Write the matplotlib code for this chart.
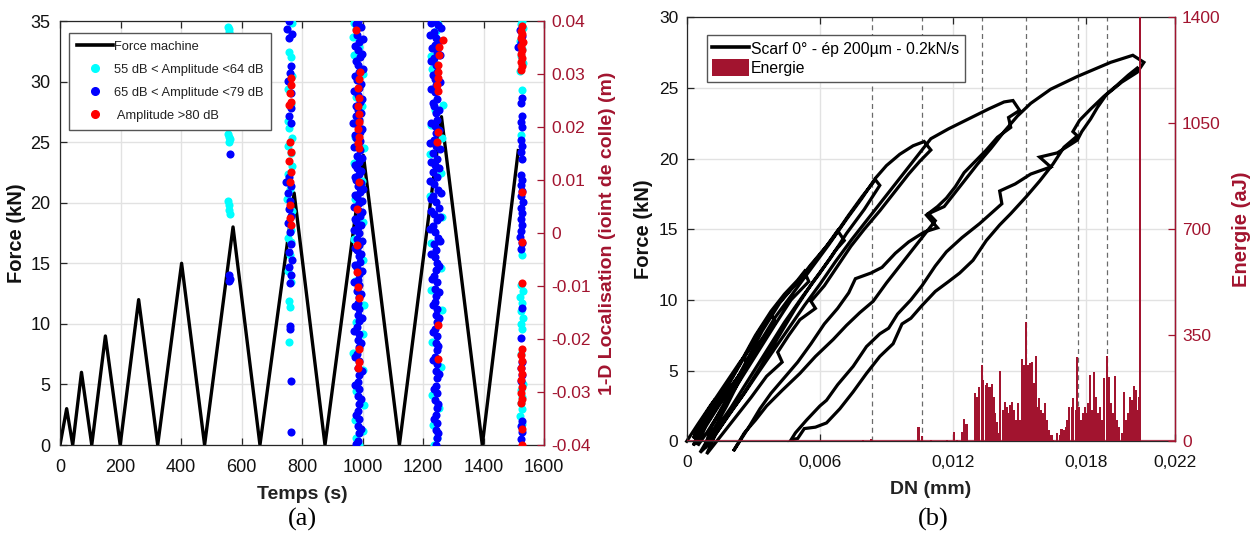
import numpy as np
import matplotlib
matplotlib.use("Agg")
import matplotlib.pyplot as plt
from matplotlib.lines import Line2D
from matplotlib.patches import Patch

plt.rcParams['font.family'] = ['Liberation Sans', 'DejaVu Sans']

MAT_RED = '#A2142F'
AX_COL = '#262626'
GRID_COL = '#e2e2e2'

# ---------------- (a) force machine vs time ----------------
force_t = [0, 22, 42, 71, 105, 150, 199, 260, 323, 402, 478, 572, 661,
           774, 876, 1003, 1122, 1261, 1396, 1515]
force_kn = [0, 3, 0, 6, 0, 9, 0, 12, 0, 15, 0, 18, 0,
            20.8, 0, 23.9, 0, 27.1, 0, 24.3]

# AE hits (time s, localisation mm)
cyan_pts = [
    (556, 38.9), (558, 38.4), (560, 37.9), (562, 37.3), (559, 36.7),
    (557, 18.7), (560, 18.2), (562, 17.7), (559, 17.2),
    (556, 6.0), (558, 5.2), (560, 4.4), (562, 3.5),
    (768, 39.6), (756, 34.2), (763, 33.2), (766, 29.6), (754, 27.1), (764, 24.3),
    (753, 21.2), (758, 19.8), (766, 18.0), (755, 16.4), (763, 15.1), (766, 12.6),
    (754, 11.2), (761, 8.3), (752, 6.4), (766, 4.1), (757, 2.0), (763, 0.6),
    (755, -0.9), (765, -1.7), (760, -4.2), (754, -7.1), (763, -9.3), (756, -12.8),
    (760, -13.9), (758, -20.5),
    (972, 39.6), (977, 38.4), (970, 37.0), (990, 35.0), (973, 33.6), (1002, 30.0),
    (978, 25.7), (999, 24.0), (974, 18.1), (1004, 16.0), (971, 13.3), (998, 9.9),
    (976, 6.5), (1001, 2.0), (972, -1.2), (1003, -5.1), (975, -9.0), (1005, -13.6),
    (977, -16.8), (1001, -19.1), (970, -22.7), (1003, -25.9), (978, -29.8),
    (1004, -32.4), (974, -35.2), (1001, -37.3), (978, -38.6), (988, -40.0),
    (1236, 40.0), (1250, 39.4), (1242, 38.2), (1226, 33.4), (1236, 32.3),
    (1231, 31.0), (1267, 24.1), (1240, 23.3), (1228, 20.3), (1262, 18.0),
    (1222, 14.9), (1260, 11.3), (1224, 7.0), (1262, 3.1), (1228, -1.9),
    (1259, -6.6), (1225, -10.8), (1262, -14.5), (1230, -20.6), (1260, -25.2),
    (1229, -30.6), (1254, -33.1), (1233, -36.2), (1247, -38.7), (1238, -40.0),
    (1527, 40.0), (1524, 39.5), (1529, 38.6), (1522, 36.2), (1528, 34.8),
    (1523, 33.4), (1530, 32.0), (1521, 30.6), (1527, 27.0), (1525, 18.5),
    (1527, -4.2), (1524, -9.8), (1529, -11.0), (1522, -12.1), (1527, -13.3),
    (1524, -14.8), (1529, -16.0), (1523, -17.2), (1527, -18.1), (1525, -22.9),
    (1529, -28.5), (1523, -29.7), (1527, -30.9), (1524, -32.1), (1528, -33.3),
    (1522, -34.5), (1526, -36.0),
]

blue_pts = [
    (561, 14.9), (559, -8.0), (561, -8.6), (560, -9.1),
    (757, 40.0), (750, 38.5), (766, 37.6), (756, 36.8), (764, 31.5), (760, 30.2),
    (755, 28.6), (762, 26.4), (765, 23.5), (757, 22.1), (763, 20.8), (747, 9.6),
    (756, 10.5), (764, 8.8), (753, 7.5), (760, 6.0), (756, 4.6), (764, 3.2),
    (754, 1.8), (760, 0.2), (762, -2.1), (756, -3.6), (766, -5.0), (757, -6.5),
    (765, -7.9), (761, -9.5), (760, -17.5), (761, -18.2), (762, -28.0), (764, -37.5),
    (986, 40.0), (978, 39.4), (995, 38.8), (983, 37.4), (1000, 36.6), (989, 36.0),
    (975, 35.2), (984, 34.6), (997, 33.8), (991, 33.2), (979, 32.4), (985, 31.7),
    (1002, 31.0), (990, 30.4), (976, 29.6), (983, 28.9), (996, 28.2), (988, 27.4),
    (973, 26.7), (984, 26.0), (999, 25.3), (991, 24.7), (978, 24.0), (985, 23.3),
    (994, 22.6), (980, 22.0), (989, 21.4), (970, 20.8), (984, 20.2), (998, 19.6),
    (991, 19.0), (976, 18.4), (980, 17.9), (993, 17.3), (986, 16.8), (972, 16.2),
    (992, 15.7), (981, 14.6), (999, 14.1), (987, 13.4), (975, 12.8), (983, 12.3),
    (996, 11.7), (990, 11.2), (974, 10.6), (980, 10.0), (994, 9.4), (986, 8.9),
    (1001, 8.3), (991, 7.8), (976, 7.2), (982, 6.7), (997, 6.1), (988, 5.6),
    (972, 5.0), (984, 4.4), (999, 3.9), (991, 3.3), (975, 2.7), (980, 2.2),
    (995, 1.6), (986, 1.1), (971, 0.5), (990, 0.0), (983, -1.1), (998, -1.6),
    (988, -2.2), (974, -2.8), (981, -3.3), (994, -3.9), (987, -4.4), (991, -5.5),
    (976, -6.0), (983, -6.6), (999, -7.1), (989, -7.7), (985, -8.8), (972, -9.3),
    (990, -9.9), (982, -11.0), (996, -11.5), (987, -12.1), (984, -13.2), (975, -13.7),
    (990, -14.3), (985, -15.4), (998, -16.0), (988, -16.6), (983, -17.8), (973, -18.4),
    (989, -19.0), (985, -20.2), (996, -20.8), (987, -21.5), (983, -22.8), (976, -23.4),
    (988, -24.1), (985, -25.4), (997, -26.0), (989, -26.8), (984, -28.1), (974, -28.7),
    (987, -29.4), (985, -30.8), (995, -31.4), (989, -32.2), (984, -33.6), (977, -34.3),
    (987, -35.0), (985, -36.4), (996, -37.0), (988, -37.8), (986, -39.2), (980, -39.8),
    (1240, 40.0), (1226, 39.6), (1249, 39.2), (1258, 38.6), (1236, 38.0), (1222, 37.4),
    (1244, 36.8), (1252, 36.2), (1240, 35.5), (1230, 34.9), (1246, 34.2), (1255, 33.6),
    (1238, 33.0), (1226, 32.4), (1243, 31.7), (1247, 30.4), (1233, 29.8), (1239, 29.1),
    (1256, 28.5), (1244, 27.9), (1228, 27.2), (1240, 26.6), (1246, 25.3), (1232, 24.6),
    (1238, 24.0), (1252, 23.3), (1243, 22.7), (1247, 21.4), (1226, 20.8), (1239, 20.1),
    (1254, 19.5), (1244, 18.9), (1236, 17.6), (1224, 17.0), (1243, 16.4), (1256, 15.8),
    (1234, 15.1), (1247, 14.0), (1226, 13.4), (1240, 12.8), (1253, 12.2), (1232, 11.6),
    (1246, 10.5), (1222, 9.9), (1238, 9.3), (1250, 8.2), (1258, 7.6), (1234, 7.0),
    (1226, 6.4), (1243, 5.9), (1252, 4.8), (1228, 4.2), (1237, 3.6), (1256, 3.0),
    (1246, 2.5), (1233, 1.3), (1224, 0.7), (1241, 0.2), (1249, -1.0), (1255, -1.6),
    (1236, -2.1), (1244, -3.3), (1228, -3.9), (1239, -4.5), (1247, -5.7), (1253, -6.3),
    (1242, -6.9), (1238, -8.1), (1230, -8.7), (1246, -9.3), (1241, -10.5), (1252, -11.1),
    (1244, -11.8), (1239, -13.0), (1233, -13.6), (1247, -14.3), (1242, -15.5),
    (1254, -16.1), (1245, -16.8), (1240, -18.1), (1232, -18.7), (1246, -19.4),
    (1242, -20.7), (1251, -21.3), (1245, -22.0), (1241, -23.4), (1234, -24.0),
    (1246, -24.7), (1243, -26.0), (1252, -26.6), (1247, -27.4), (1242, -28.8),
    (1236, -29.4), (1245, -30.2), (1241, -31.6), (1250, -32.2), (1246, -33.0),
    (1243, -34.4), (1237, -35.0), (1245, -35.8), (1242, -37.2), (1251, -37.8),
    (1246, -38.6), (1244, -40.0),
    (1522, 38.3), (1528, 37.1), (1525, 35.8), (1515, 35.0), (1527, 25.4),
    (1525, 24.6), (1528, 22.0), (1524, 21.0), (1527, 20.0), (1525, 17.6),
    (1528, 16.5), (1524, 15.3), (1527, 14.0), (1525, 10.9), (1528, 10.0),
    (1523, 9.0), (1527, 8.0), (1525, 7.0), (1529, 5.9), (1523, 4.8), (1527, 3.7),
    (1524, 2.6), (1528, 1.5), (1525, 0.4), (1522, -0.8), (1527, -1.9),
    (1524, -3.0), (1527, -14.2), (1524, -19.9), (1526, -24.3), (1523, -25.5),
    (1527, -26.7), (1525, -28.0), (1527, -35.4), (1524, -36.5), (1527, -37.6),
    (1525, -38.8),
]

red_pts = [
    (764, 29.2), (762, 27.9), (759, 26.4), (763, 24.8), (758, 24.1), (760, 17.2),
    (763, 15.3), (758, 13.5), (762, 11.6), (760, 9.7), (759, 5.3), (761, 2.8),
    (763, 1.5),
    (978, 38.3), (992, 30.4), (988, 29.0), (986, 27.3), (989, 25.4), (986, 24.0),
    (990, 22.5), (987, 21.0), (985, 19.7), (989, 18.2), (984, 17.0), (987, 16.0),
    (987, 9.7), (982, 4.6), (982, -2.3), (981, -7.3), (985, -10.1), (987, -12.3),
    (988, -21.8), (987, -24.3), (986, -25.5),
    (1267, 36.4), (1252, 35.0), (1253, 33.5), (1251, 31.7), (1249, 30.3),
    (1248, 29.2), (1247, 28.0), (1248, 26.7), (1250, 19.0), (1247, 17.2),
    (1249, -17.4), (1251, -23.7),
    (1527, 39.0), (1524, 38.2), (1528, 37.5), (1525, 36.7), (1529, 36.0),
    (1523, 35.2), (1527, 34.5), (1525, 33.7), (1528, 33.0), (1524, 32.3),
    (1527, 31.5), (1525, 30.7), (1527, 7.8), (1527, -1.7), (1527, -9.5),
    (1527, -21.8), (1525, -23.0), (1528, -24.2), (1524, -25.4), (1527, -26.6),
    (1525, -27.8), (1528, -29.0), (1524, -30.2), (1527, -31.4), (1525, -32.0),
    (1526, -37.0), (1527, -40.0),
]

loc_ticks = [-0.04, -0.03, -0.02, -0.01, 0, 0.01, 0.02, 0.03, 0.04]
loc_labels = ['-0.04', '-0.03', '-0.02', '-0.01', '0', '0.01', '0.02', '0.03', '0.04']

# ---------------- (b) force vs DN + energy ----------------
# loading / unloading path (DN mm, force kN)
bundle_path = [
    (0, 0), (0.0005, 1.2), (0.0011, 2.6), (0.0013, 3.0), (0.0012, 2.6), (0.0008, 1.6), (0.0003, 0.2),
    (0.0006, 1.3), (0.0012, 2.8), (0.0018, 4.2), (0.0024, 5.6), (0.0026, 6.0), (0.0027, 5.4),
    (0.0021, 4.1), (0.0014, 2.5), (0.0007, 0.8), (0.0003, -0.3),
    (0.0006, 0.9), (0.0014, 2.9), (0.0022, 5.0), (0.0030, 7.0), (0.0036, 8.6), (0.0038, 9.0),
    (0.0040, 8.4), (0.0032, 6.8), (0.0025, 5.0), (0.0016, 2.9), (0.0008, 0.9), (0.0004, -0.2),
    (0.0008, 1.3), (0.0016, 3.4), (0.0024, 5.5), (0.0031, 7.5), (0.0038, 9.2), (0.0044, 10.4),
    (0.0050, 11.4), (0.0053, 12.0), (0.0055, 11.3), (0.0047, 10.0), (0.0040, 8.3), (0.0032, 6.3),
    (0.0024, 4.3), (0.0016, 2.3), (0.0009, 0.6), (0.0005, -0.3),
    (0.0009, 1.3), (0.0017, 3.5), (0.0025, 5.7), (0.0033, 7.9), (0.0041, 9.7), (0.0049, 11.1),
    (0.0056, 12.5), (0.0063, 13.8), (0.0068, 14.9), (0.0071, 14.2), (0.0067, 13.5), (0.0060, 11.9),
    (0.0052, 10.2), (0.0044, 8.4), (0.0036, 6.4), (0.0028, 4.4), (0.0020, 2.4), (0.0012, 0.6),
    (0.0008, -0.5),
    (0.0011, 1.0), (0.0018, 3.0), (0.0026, 5.4), (0.0034, 7.8), (0.0042, 9.8), (0.0050, 11.3),
    (0.0058, 12.8), (0.0066, 14.4), (0.0073, 16.0), (0.0079, 17.3), (0.0085, 18.5), (0.0087, 18.1),
    (0.0080, 16.4), (0.0072, 14.7), (0.0065, 13.0), (0.0057, 11.3), (0.0049, 9.4), (0.0041, 7.3),
    (0.0033, 5.2), (0.0025, 3.2), (0.0017, 1.4), (0.0010, -0.2), (0.0006, -0.8),
]
cycle21_path = [
    (0.0012, 0.8), (0.0018, 2.5), (0.0025, 4.7), (0.0033, 7.0), (0.0040, 8.8), (0.0048, 10.5),
    (0.0056, 12.2), (0.0064, 13.9), (0.0072, 15.7), (0.0079, 17.2), (0.0085, 18.6), (0.0090, 19.5),
    (0.0096, 20.3), (0.0102, 20.9), (0.0107, 21.2), (0.0110, 20.6),
    (0.0105, 19.8), (0.0100, 18.9), (0.0093, 17.5), (0.0087, 16.3), (0.0080, 15.0), (0.0074, 13.8),
    (0.0068, 12.4), (0.0062, 11.0), (0.0056, 9.9), (0.0058, 9.4), (0.0051, 8.6), (0.0046, 7.5),
    (0.0041, 6.3), (0.0043, 5.6), (0.0036, 4.6), (0.0029, 3.1), (0.0022, 1.7), (0.0015, 0.3),
    (0.0009, -0.9),
]
cycle24_path = [
    (0.0013, 0.5), (0.0019, 1.9), (0.0026, 3.4), (0.0032, 4.8), (0.0039, 6.4), (0.0046, 8.0),
    (0.0053, 9.6), (0.0060, 11.1), (0.0067, 12.7), (0.0074, 14.2), (0.0081, 15.6), (0.0088, 17.0),
    (0.0095, 18.4), (0.0101, 19.6), (0.0106, 20.6), (0.0110, 21.4), (0.0118, 22.1), (0.0127, 22.8),
    (0.0136, 23.5), (0.0143, 24.0), (0.0147, 24.1), (0.0150, 23.4),
    (0.0145, 22.9), (0.0146, 22.2), (0.0140, 21.5), (0.0135, 20.6), (0.0130, 19.8), (0.0125, 19.0),
    (0.0121, 18.0), (0.0117, 17.2), (0.0113, 16.6), (0.0108, 16.0), (0.0113, 15.1), (0.0107, 14.8),
    (0.0100, 14.1), (0.0094, 13.3), (0.0088, 12.3), (0.0083, 11.9), (0.0076, 11.5), (0.0073, 10.5),
    (0.0068, 9.4), (0.0062, 8.3), (0.0056, 6.9), (0.0050, 5.6), (0.0044, 4.5), (0.0038, 3.4),
    (0.0033, 2.3), (0.0028, 1.0), (0.0021, -0.7),
]
cycle27_path = [
    (0.0026, 0.6), (0.0031, 1.5), (0.0036, 2.5), (0.0043, 3.6), (0.0051, 4.8), (0.0058, 6.0),
    (0.0066, 7.2), (0.0072, 8.2), (0.0078, 9.1), (0.0084, 9.9), (0.0090, 11.2), (0.0096, 12.4),
    (0.0101, 13.4), (0.0107, 14.6), (0.0112, 15.6), (0.0109, 16.1), (0.0116, 16.6), (0.0121, 17.6),
    (0.0126, 18.6), (0.0131, 19.6), (0.0137, 20.7), (0.0143, 21.9), (0.0149, 23.0), (0.0155, 23.9),
    (0.0164, 24.9), (0.0176, 25.8), (0.0191, 26.8), (0.0201, 27.3), (0.0206, 26.8), (0.0203, 26.1),
    (0.0196, 25.4), (0.0189, 24.5), (0.0185, 23.6), (0.0182, 22.8), (0.0178, 21.9), (0.0176, 21.3),
    (0.0167, 20.4), (0.0159, 20.1), (0.0164, 19.4), (0.0155, 18.9), (0.0148, 18.2), (0.0141, 17.7),
    (0.0142, 16.8), (0.0132, 15.4), (0.0124, 14.4), (0.0117, 13.4), (0.0112, 12.4), (0.0106, 11.0),
    (0.0101, 10.0), (0.0095, 9.0), (0.0091, 8.0), (0.0087, 7.6), (0.0081, 6.7), (0.0075, 5.3),
    (0.0068, 4.0), (0.0063, 2.9), (0.0060, 2.5), (0.0054, 1.5), (0.0049, 0.6), (0.0047, 0.1),
]
final_path = [
    (0.0050, 0.2), (0.0053, 0.9), (0.0058, 1.0), (0.0063, 1.3), (0.0069, 2.3), (0.0075, 3.5),
    (0.0081, 4.8), (0.0087, 6.0), (0.0093, 6.9), (0.0097, 8.3), (0.0101, 8.7), (0.0106, 9.6),
    (0.0112, 10.6), (0.0118, 11.3), (0.0123, 11.9), (0.0129, 12.8), (0.0135, 14.2), (0.0141, 15.3),
    (0.0146, 16.1), (0.0153, 17.3), (0.0159, 18.4), (0.0165, 19.6), (0.0170, 20.8), (0.0176, 21.6),
    (0.0174, 21.9), (0.0177, 22.7), (0.0182, 23.5), (0.0188, 24.4), (0.0194, 25.2), (0.0199, 25.9),
    (0.0203, 26.4),
]

energy_dn = [0.00793, 0.00829, 0.01044, 0.01059, 0.01099, 0.01174, 0.01204, 0.01219,
             0.01239, 0.01249, 0.01261, 0.01299, 0.01306, 0.01318, 0.01329, 0.01336,
             0.01347, 0.01354, 0.01364, 0.01374, 0.01382, 0.01389, 0.01397, 0.01404,
             0.01412, 0.01424, 0.01434, 0.01442, 0.01449, 0.01457, 0.01467, 0.01475,
             0.01484, 0.01494, 0.01502, 0.01512, 0.01521, 0.01529, 0.01539, 0.01547,
             0.01557, 0.01565, 0.01574, 0.01581, 0.01589, 0.01596, 0.01604, 0.01614,
             0.01622, 0.01634, 0.01644, 0.01652, 0.01667, 0.01682, 0.01689, 0.01700,
             0.01709, 0.01716, 0.01724, 0.01735, 0.01742, 0.01753, 0.01760, 0.01769,
             0.01777, 0.01784, 0.01795, 0.01802, 0.01810, 0.01817, 0.01826, 0.01835,
             0.01844, 0.01855, 0.01862, 0.01871, 0.01880, 0.01892, 0.01900, 0.01910,
             0.01919, 0.01930, 0.01937, 0.01949, 0.01960, 0.01970, 0.01979, 0.01990,
             0.01997, 0.02009, 0.02015, 0.02024, 0.02032, 0.02039, 0.02042]
energy_aj = [4, 8, 48, 17, 3, 3, 31, 5,
             31, 73, 57, 160, 147, 180, 252, 202,
             186, 191, 180, 189, 147, 92, 65, 26,
             233, 103, 131, 114, 92, 120, 131, 103,
             70, 125, 70, 270, 252, 395, 252, 257,
             263, 191, 282, 114, 142, 103, 92, 125,
             70, 37, 20, 4, 26, 20, 42, 37,
             48, 70, 114, 114, 142, 103, 277, 114,
             70, 92, 114, 92, 125, 218, 103, 230,
             147, 92, 114, 70, 208, 281, 213, 125,
             92, 215, 70, 48, 26, 164, 70, 92,
             147, 136, 183, 169, 103, 147, 1450]

event_dn = [0.00834, 0.01061, 0.01332, 0.01529, 0.01764, 0.01892]

# ---------------- figure ----------------
W, H = 1257, 535
fig = plt.figure(figsize=(W / 100, H / 100), dpi=100)


def box(l, t, r, b):
    return [l / W, 1 - b / H, (r - l) / W, (b - t) / H]


def style_axes(a):
    for s in a.spines.values():
        s.set_color(AX_COL)
        s.set_linewidth(0.9)
    a.grid(True, color=GRID_COL, lw=1.0)
    a.set_axisbelow(True)
    a.tick_params(direction='in', colors=AX_COL, length=5, width=0.9,
                  top=True, right=True)


# ---- panel (a)
ax = fig.add_axes(box(60, 21, 544, 445))
style_axes(ax)
ax.plot(force_t, force_kn, color='k', lw=2.4, label='Force machine')
ax.set_xlim(0, 1600)
ax.set_ylim(0, 35)
ax.set_xticks(range(0, 1601, 200))
ax.set_yticks(range(0, 36, 5))
ax.tick_params(labelsize=13, labelcolor='#111111')
ax.tick_params(axis='x', pad=10)
ax.tick_params(axis='y', pad=7)
ax.set_xlabel('Temps (s)', fontsize=14, fontweight='bold', color='#222222', labelpad=7)
ax.set_ylabel('Force (kN)', fontsize=14.5, fontweight='bold', color='#111111', labelpad=3)

ax2 = ax.twinx()
for key in ['left', 'top', 'bottom']:
    ax2.spines[key].set_visible(False)
ax2.spines['right'].set_color(MAT_RED)
ax2.spines['right'].set_linewidth(1.0)
for pts, col in [(cyan_pts, 'cyan'), (blue_pts, 'blue'), (red_pts, 'red')]:
    arr = np.array(pts, dtype=float)
    ax2.scatter(arr[:, 0], arr[:, 1] / 1000.0, s=34, color=col, linewidths=0, zorder=3)
ax2.set_ylim(-0.04, 0.04)
ax2.set_yticks(loc_ticks)
ax2.set_yticklabels(loc_labels)
ax2.tick_params(axis='y', direction='in', colors=MAT_RED, labelcolor=MAT_RED,
                labelsize=12.5, length=5, width=0.9, pad=5)
ax2.set_ylabel('1-D Localisation (ioint de colle) (m)', fontsize=14, fontweight='bold',
               color=MAT_RED, labelpad=6)

hand_a = [
    Line2D([], [], color='k', lw=2.6),
    Line2D([], [], ls='none', marker='o', ms=5.5, mfc='cyan', mec='cyan'),
    Line2D([], [], ls='none', marker='o', ms=5.5, mfc='blue', mec='blue'),
    Line2D([], [], ls='none', marker='o', ms=5.5, mfc='red', mec='red'),
]
lab_a = ['Force machine', '55 dB < Amplitude <64 dB', '65 dB < Amplitude <79 dB',
         ' Amplitude >80 dB']
leg = ax2.legend(hand_a, lab_a, loc='upper left', bbox_to_anchor=(69 / W, 1 - 33 / H),
                 bbox_transform=fig.transFigure, borderaxespad=0, fancybox=False,
                 framealpha=1, edgecolor='#555555', fontsize=9.3, handlelength=2.8,
                 handletextpad=0.1, labelspacing=0.85, borderpad=0.6)
leg.get_frame().set_linewidth(1.0)
for t in leg.get_texts():
    t.set_color('#222222')

fig.text(302 / W, 1 - 519 / H, '(a)', ha='center', va='center', fontsize=19,
         family=['Liberation Serif', 'DejaVu Serif'])

# ---- panel (b)
bx = fig.add_axes(box(686.7, 17.1, 1175, 441.3))
style_axes(bx)
for d in event_dn:
    bx.axvline(d, color='#6b6b6b', lw=0.9, ls=(0, (4, 3)), zorder=1)
path = np.array(bundle_path + cycle21_path + cycle24_path + cycle27_path + final_path)
bx.plot(path[:, 0], path[:, 1], color='k', lw=2.3, clip_on=False, zorder=2,
        solid_joinstyle='miter')
bx.set_xlim(0, 0.022)
bx.set_ylim(0, 30)
bx.set_xticks([0, 0.006, 0.012, 0.018, 0.022])
bx.set_xticklabels(['0', '0,006', '0,012', '0,018', '0,022'])
bx.set_yticks(range(0, 31, 5))
bx.tick_params(labelsize=12.5, labelcolor='#111111')
bx.tick_params(axis='x', pad=10)
bx.tick_params(axis='y', pad=6)
bx.set_xlabel('DN (mm)', fontsize=14, fontweight='bold', color='#222222', labelpad=8)
bx.set_ylabel('Force (kN)', fontsize=14.5, fontweight='bold', color='#111111', labelpad=4)

bx2 = bx.twinx()
for key in ['left', 'top', 'bottom']:
    bx2.spines[key].set_visible(False)
bx2.spines['right'].set_color(MAT_RED)
bx2.spines['right'].set_linewidth(1.0)
bx2.bar(energy_dn, energy_aj, width=0.0001, color=MAT_RED, linewidth=0)
bx2.axhline(0, color=MAT_RED, lw=1.6, alpha=0.8)
bx2.set_ylim(0, 1400)
bx2.set_yticks([0, 350, 700, 1050, 1400])
bx2.tick_params(axis='y', direction='in', colors=MAT_RED, labelcolor=MAT_RED,
                labelsize=12.5, length=5, width=0.9, pad=5)
bx2.set_ylabel('Energie (aJ)', fontsize=14.5, fontweight='bold', color=MAT_RED, labelpad=8)

hand_b = [Line2D([], [], color='k', lw=2.6), Patch(facecolor=MAT_RED, edgecolor='none')]
lab_b = ['Scarf 0° - ép 200µm - 0.2kN/s', 'Energie']
legb = bx2.legend(hand_b, lab_b, loc='upper left', bbox_to_anchor=(707 / W, 1 - 35 / H),
                  bbox_transform=fig.transFigure, borderaxespad=0, fancybox=False,
                  framealpha=1, edgecolor='#555555', fontsize=11.3, handlelength=2.35,
                  handleheight=1.25, handletextpad=0.1, labelspacing=0.15, borderpad=0.35)
legb.get_frame().set_linewidth(1.0)

fig.text(933 / W, 1 - 519 / H, '(b)', ha='center', va='center', fontsize=19,
         family=['Liberation Serif', 'DejaVu Serif'])

fig.savefig('out.png', dpi=100)
